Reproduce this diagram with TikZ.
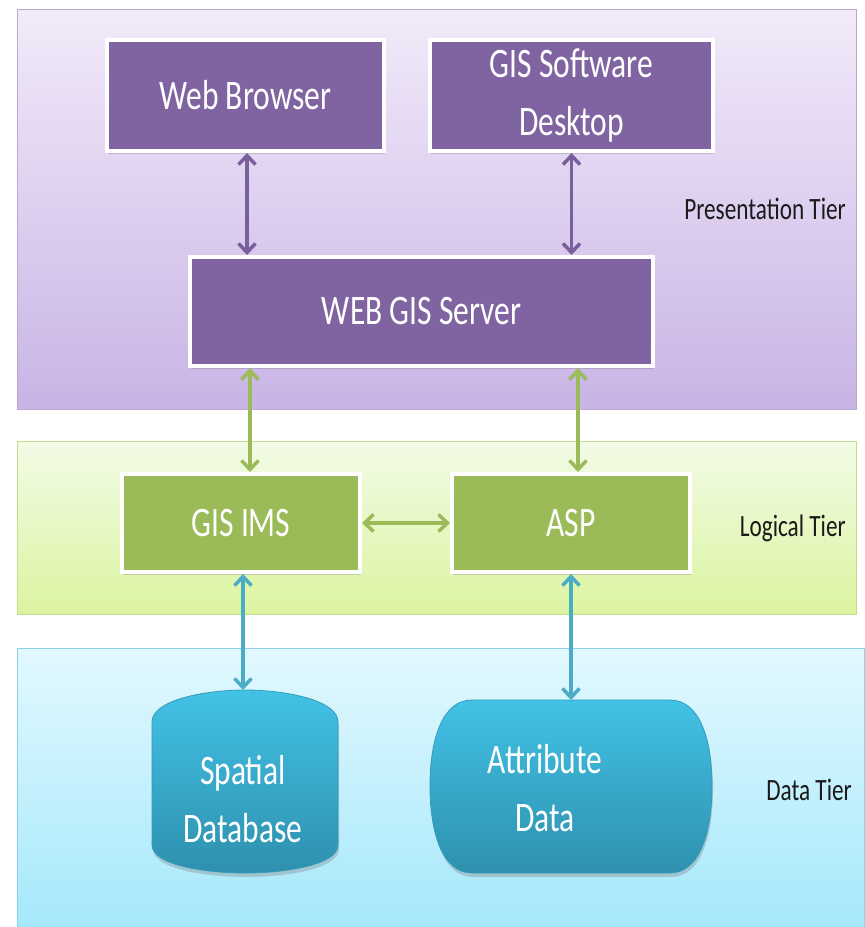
\documentclass[tikz,border=0pt]{standalone}
\usepackage{fontspec}
\newfontfamily\cf[FakeStretch=0.75]{Carlito}
\usetikzlibrary{arrows.meta,shadows}
\definecolor{purp}{HTML}{8064A2}
\definecolor{purpline}{HTML}{7A5E9E}
\definecolor{grn}{HTML}{9BBB59}
\definecolor{blu}{HTML}{4BACC6}
\definecolor{pTop}{HTML}{F2EAF9}
\definecolor{pBot}{HTML}{C8B4E5}
\definecolor{pBor}{HTML}{B9A8D4}
\definecolor{lTop}{HTML}{F2FBE6}
\definecolor{lBot}{HTML}{DBF4A0}
\definecolor{lBor}{HTML}{C4DC8E}
\definecolor{dTop}{HTML}{E2F8FE}
\definecolor{dBot}{HTML}{A5E8FB}
\definecolor{dBor}{HTML}{8CD2EA}
\definecolor{cylTop}{HTML}{42C2E6}
\definecolor{cylBot}{HTML}{2E90AE}
\definecolor{tierText}{HTML}{1A1A1A}
\tikzset{
  boxtxt/.style={font=\cf\fontsize{42}{58}\selectfont, text=white, align=center},
  pbox/.style={boxtxt, fill=purp, draw=white, line width=4pt, inner sep=0pt,
    drop shadow={opacity=0.35, shadow xshift=1pt, shadow yshift=-3pt}},
  gbox/.style={pbox, fill=grn},
  tierlbl/.style={font=\cf\fontsize{31}{36}\selectfont, text=tierText, anchor=east, inner sep=0pt},
  dshape/.style={top color=cylTop, bottom color=cylBot, draw=cylTop!80!black, line width=0.8pt,
    drop shadow={opacity=0.35, shadow xshift=1pt, shadow yshift=-4pt}},
  conn/.style={line width=3.5pt, {Straight Barb[length=9pt,width=17pt]}-{Straight Barb[length=9pt,width=17pt]}},
}
\begin{document}
\begin{tikzpicture}[x=1pt,y=-1pt]
\useasboundingbox (0,0) rectangle (865,927);
\fill[white] (0,0) rectangle (865,927);
% tier panels
\shade[top color=pTop, bottom color=pBot] (17,9) rectangle (856,409);
\draw[pBor, line width=1pt] (17,9) rectangle (856,409);
\shade[top color=lTop, bottom color=lBot] (17,441) rectangle (856,614);
\draw[lBor, line width=1pt] (17,441) rectangle (856,614);
\shade[top color=dTop, bottom color=dBot] (17,648) rectangle (864,930);
\draw[dBor, line width=1pt] (17,930) -- (17,648) -- (864,648) -- (864,930);

% presentation boxes
\node[pbox, minimum width=277pt, minimum height=111pt] (wb) at (245.5,95.5) {Web Browser};
\node[pbox, minimum width=283pt, minimum height=111pt] (gsd) at (571.5,95.5) {GIS Software\\Desktop};
\node[pbox, minimum width=463pt, minimum height=109pt] (srv) at (421.5,311.5) {WEB GIS Server};
% logical boxes
\node[gbox, minimum width=238pt, minimum height=98pt] (ims) at (241,523) {GIS IMS};
\node[gbox, minimum width=238pt, minimum height=98pt] (asp) at (571,523) {ASP};

% data shapes
\path[dshape] (152,722)
  .. controls (152,700) and (205,690) .. (245,690)
  .. controls (285,690) and (338,700) .. (338,722) -- (338,845)
  .. controls (338,865) and (285,873) .. (245,873)
  .. controls (205,873) and (152,865) .. (152,845) -- cycle;
\path[dshape] (472,700) -- (670,700)
  .. controls (700,700) and (712,740) .. (712,786)
  .. controls (712,832) and (700,873) .. (670,873) -- (472,873)
  .. controls (442,873) and (430,832) .. (430,786)
  .. controls (430,740) and (442,700) .. (472,700) -- cycle;
\coordinate (sdtop) at (243,690);
\coordinate (adtop) at (571,700);
\node[boxtxt, inner sep=0pt] (sd) at (243,799) {Spatial\\Database};
\node[boxtxt, inner sep=0pt] (ad) at (545,788) {Attribute\\Data};

% tier labels
\node[tierlbl] (pt) at (846,209) {Presentation Tier};
\node[tierlbl] (lt) at (846,528) {Logical Tier};
\node[tierlbl] (dt) at (852,790) {Data Tier};

% connectors
\draw[conn, purpline] ([xshift=1.5pt]wb.south) -- ([xshift=1.5pt]wb.south |- srv.north);
\draw[conn, purpline] (gsd.south) -- (gsd.south |- srv.north);
\draw[conn, grn] ([xshift=9pt]ims.north |- srv.south) -- ([xshift=9pt]ims.north);
\draw[conn, grn] ([xshift=7pt]asp.north |- srv.south) -- ([xshift=7pt]asp.north);
\draw[conn, grn] (ims.east) -- (asp.west);
\draw[conn, blu] ([xshift=2pt]ims.south) -- (sdtop);
\draw[conn, blu] (asp.south) -- (adtop);
\end{tikzpicture}
\end{document}
